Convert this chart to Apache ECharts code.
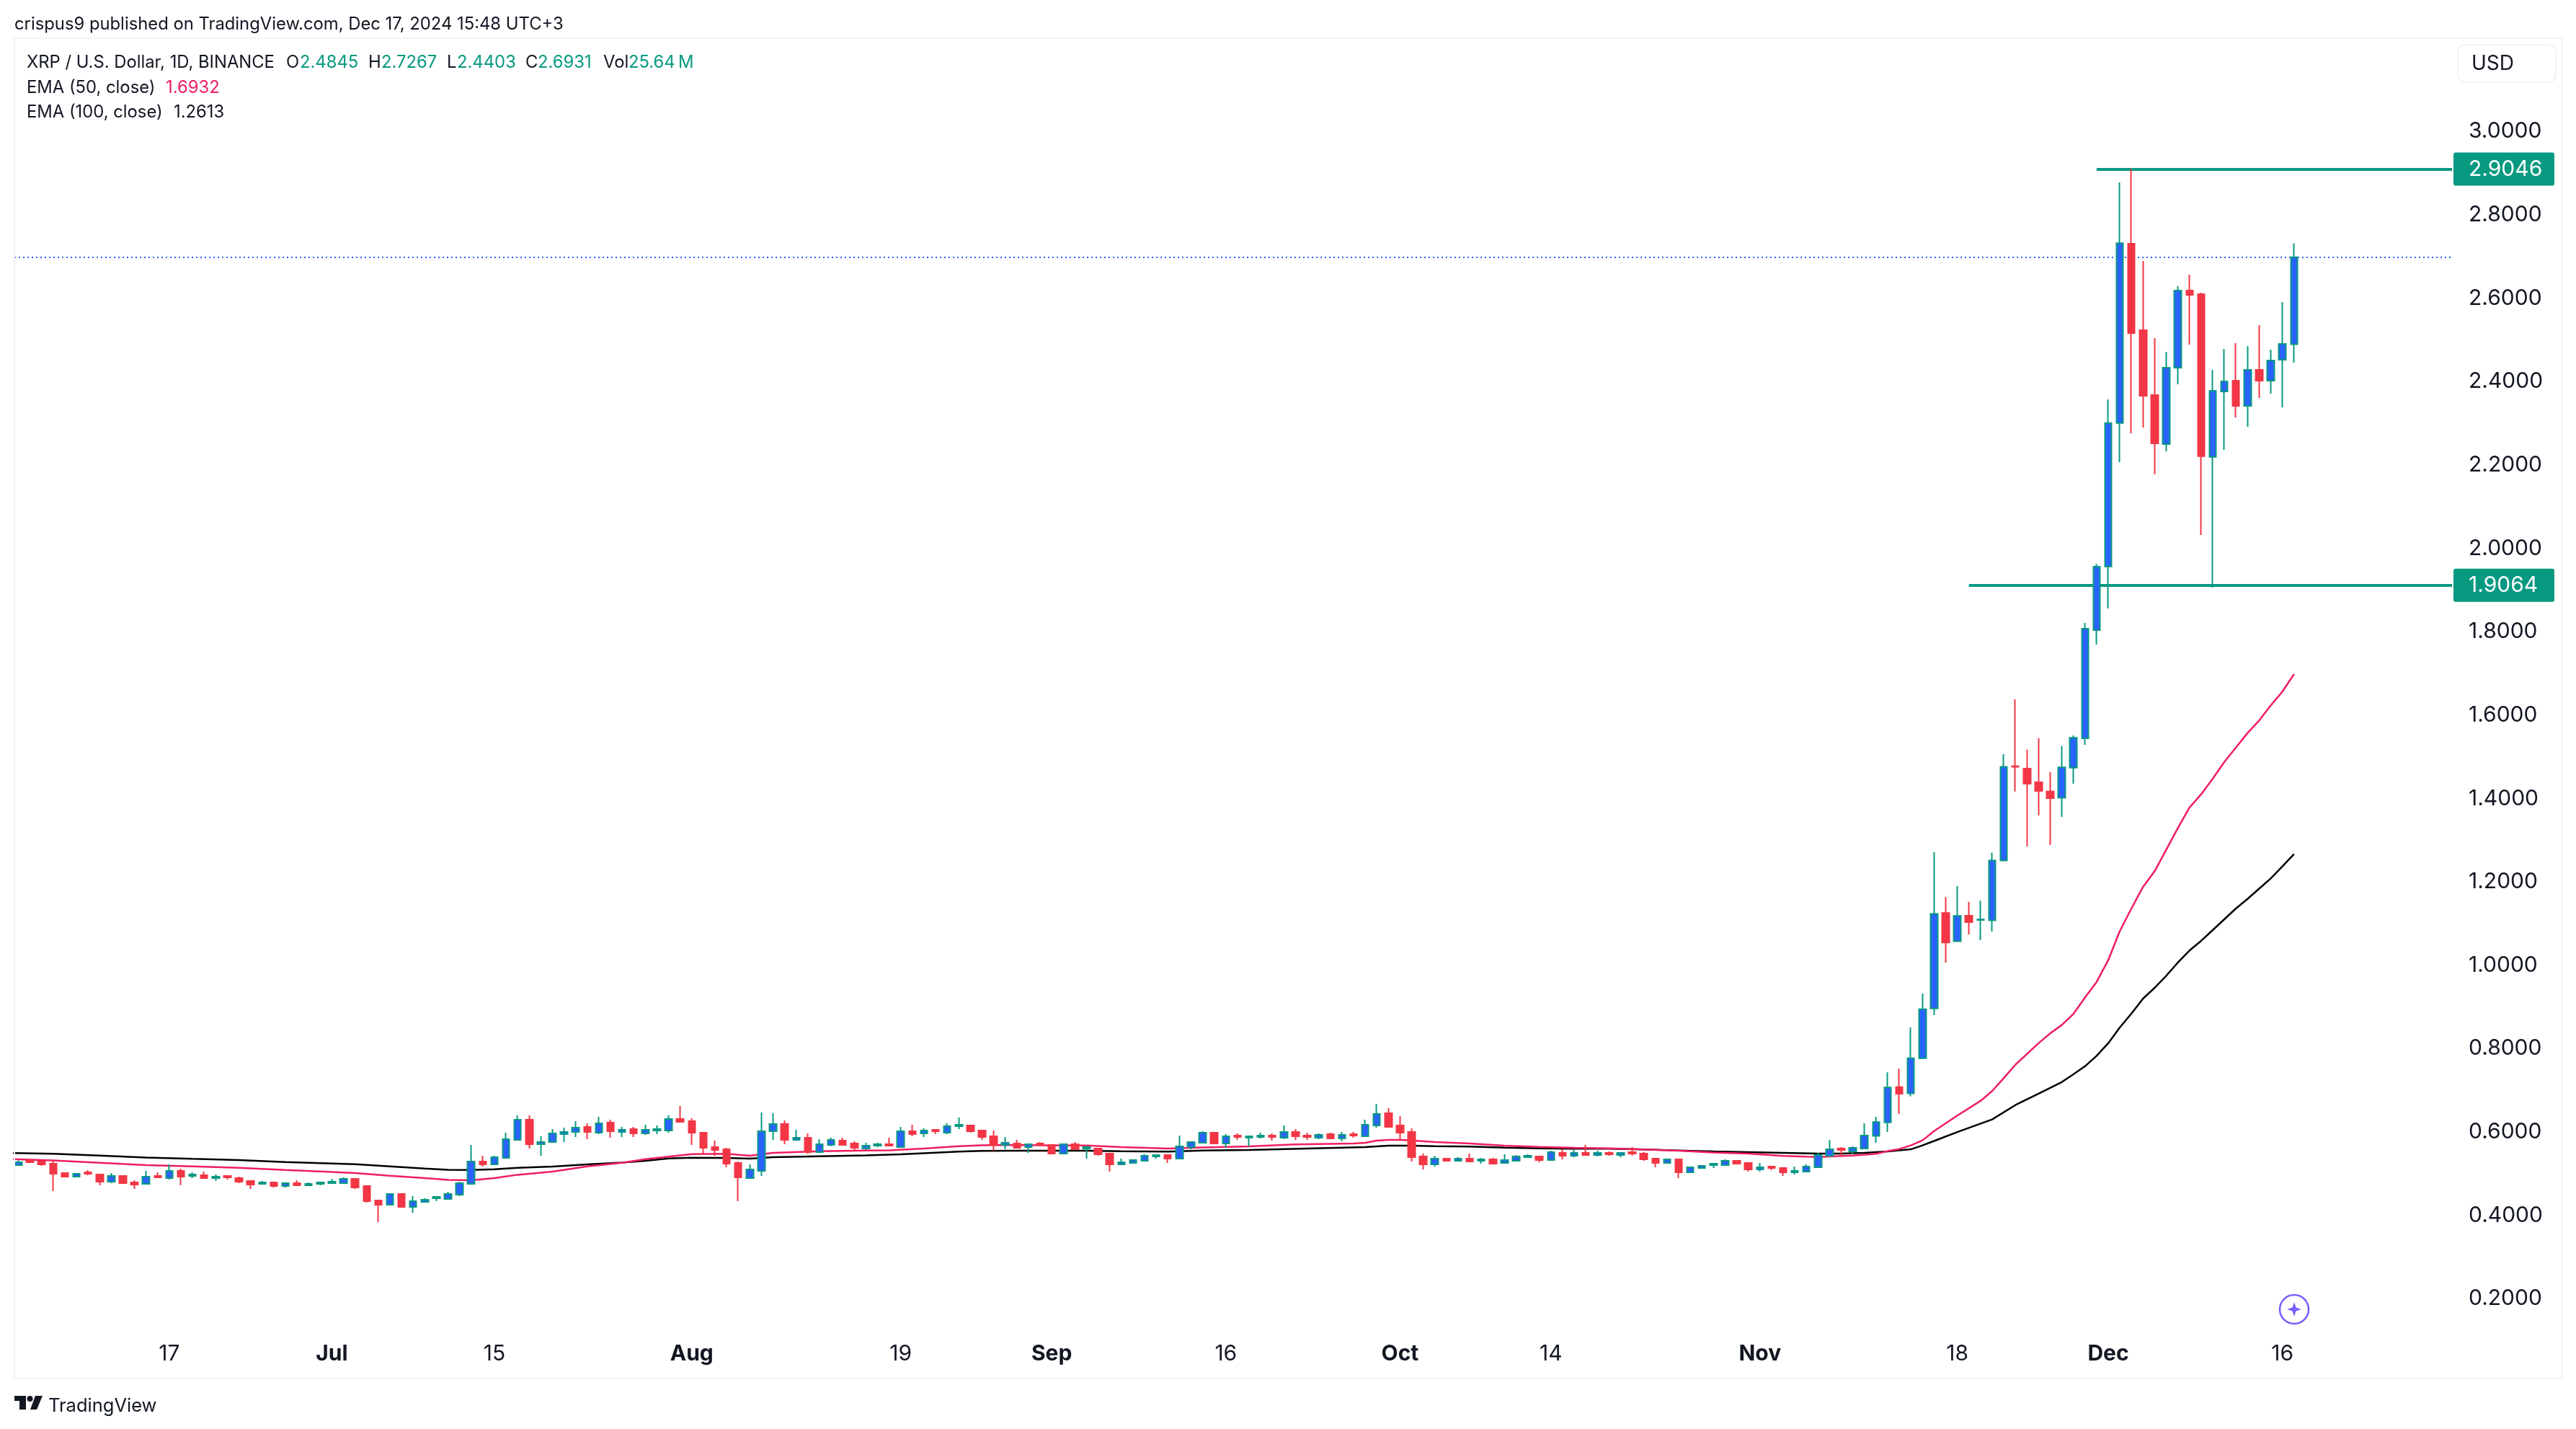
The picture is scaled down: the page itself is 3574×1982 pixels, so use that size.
<!DOCTYPE html>
<html>
<head>
<meta charset="utf-8">
<title>XRP / U.S. Dollar</title>
<script src="https://cdn.jsdelivr.net/npm/echarts@6/dist/echarts.min.js"></script>
<style>
  html, body { margin: 0; background: #fff; }
  #main { width: 3574px; height: 1982px; }
</style>
</head>
<body>
<div id="main"></div>
<script>
// daily candles from 2024-06-04 (x = day index), rows are [open, close, low, high]
const ohlc = [
  [.5153,.5222,.5153,.5268],[.5262,.5222,.5205,.5297],[.5239,.5170,.5136,.5257],[.5187,.4945,.4530,.5257],
  [.4962,.4876,.4876,.4980],[.4876,.4945,.4876,.4957],[.4980,.4945,.4911,.5032],[.4928,.4755,.4668,.4945],
  [.4755,.4893,.4720,.4962],[.4893,.4720,.4720,.4893],[.4738,.4686,.4582,.4789],[.4703,.4876,.4703,.5014],
  [.4893,.4859,.4841,.4980],[.4841,.5014,.4807,.5170],[.5014,.4876,.4668,.5066],[.4893,.4928,.4841,.4980],
  [.4911,.4841,.4841,.4997],[.4841,.4876,.4772,.4928],[.4893,.4859,.4807,.4893],[.4841,.4755,.4720,.4876],
  [.4772,.4686,.4582,.4789],[.4703,.4738,.4703,.4772],[.4738,.4651,.4617,.4755],[.4651,.4720,.4617,.4738],
  [.4720,.4668,.4668,.4789],[.4668,.4703,.4668,.4738],[.4703,.4738,.4668,.4755],[.4720,.4755,.4720,.4824],
  [.4720,.4824,.4720,.4859],[.4824,.4617,.4582,.4841],[.4651,.4288,.4253,.4668],[.4305,.4201,.3786,.4305],
  [.4201,.4461,.4201,.4478],[.4461,.4150,.4150,.4461],[.4150,.4288,.4011,.4409],[.4271,.4323,.4253,.4357],
  [.4357,.4392,.4288,.4409],[.4340,.4461,.4340,.4513],[.4444,.4720,.4409,.4755],[.4703,.5239,.4703,.5637],
  [.5239,.5170,.5118,.5378],[.5170,.5343,.5170,.5378],[.5326,.5775,.5308,.5931],[.5758,.6242,.5758,.6346],
  [.6242,.5654,.5551,.6346],[.5654,.5706,.5378,.5845],[.5706,.5914,.5689,.6018],[.5896,.5948,.5706,.6052],
  [.5948,.6052,.5827,.6208],[.6069,.5948,.5775,.6156],[.5931,.6156,.5896,.6312],[.6173,.5966,.5810,.6242],
  [.5948,.6000,.5827,.6069],[.6018,.5914,.5827,.6069],[.5914,.6000,.5879,.6121],[.5983,.6018,.5896,.6104],
  [.5983,.6260,.5931,.6346],[.6260,.6190,.6190,.6571],[.6208,.5931,.5637,.6277],[.5931,.5568,.5430,.5948],
  [.5585,.5516,.5378,.5741],[.5533,.5187,.5101,.5568],[.5205,.4859,.4288,.5239],[.4841,.5049,.4841,.5170],
  [.5014,.5966,.4893,.6415],[.5966,.6139,.5758,.6398],[.6139,.5758,.5654,.6225],[.5758,.5810,.5758,.6000],
  [.5810,.5464,.5430,.5914],[.5464,.5654,.5464,.5775],[.5637,.5758,.5602,.5810],[.5741,.5637,.5620,.5810],
  [.5672,.5568,.5499,.5724],[.5551,.5620,.5516,.5689],[.5620,.5654,.5585,.5689],[.5654,.5620,.5620,.5810],
  [.5585,.5966,.5585,.6069],[.5966,.5896,.5845,.6121],[.5914,.5983,.5827,.6035],[.6000,.5966,.5896,.6018],
  [.5931,.6087,.5896,.6156],[.6087,.6121,.6018,.6294],[.6104,.5966,.5931,.6121],[.5983,.5827,.5758,.6000],
  [.5845,.5637,.5499,.5983],[.5637,.5689,.5533,.5827],[.5672,.5568,.5551,.5758],[.5585,.5654,.5447,.5654],
  [.5672,.5637,.5602,.5706],[.5637,.5430,.5412,.5654],[.5430,.5654,.5430,.5672],[.5654,.5533,.5533,.5706],
  [.5551,.5585,.5308,.5620],[.5551,.5412,.5378,.5568],[.5430,.5170,.4997,.5447],[.5170,.5222,.5170,.5308],
  [.5205,.5274,.5187,.5291],[.5257,.5378,.5239,.5412],[.5360,.5395,.5308,.5412],[.5395,.5308,.5205,.5395],
  [.5308,.5602,.5308,.5862],[.5585,.5706,.5533,.5724],[.5689,.5931,.5672,.5966],[.5931,.5672,.5672,.5948],
  [.5672,.5845,.5568,.5896],[.5862,.5827,.5758,.5914],[.5810,.5845,.5602,.5845],[.5827,.5862,.5793,.5931],
  [.5862,.5827,.5741,.5914],[.5810,.5948,.5775,.6104],[.5948,.5845,.5758,.6018],[.5862,.5827,.5758,.5931],
  [.5810,.5879,.5775,.5914],[.5896,.5793,.5793,.5931],[.5793,.5879,.5724,.5948],[.5896,.5862,.5810,.5948],
  [.5845,.6121,.5827,.6242],[.6104,.6381,.6052,.6623],[.6398,.6069,.6069,.6519],[.6104,.5931,.5758,.6329],
  [.5948,.5343,.5239,.6035],[.5360,.5170,.5049,.5430],[.5170,.5308,.5118,.5378],[.5308,.5257,.5239,.5326],
  [.5257,.5308,.5257,.5343],[.5308,.5239,.5239,.5430],[.5257,.5291,.5187,.5326],[.5291,.5187,.5187,.5326],
  [.5205,.5274,.5205,.5412],[.5257,.5360,.5257,.5395],[.5343,.5378,.5326,.5412],[.5360,.5274,.5222,.5378],
  [.5274,.5464,.5257,.5499],[.5447,.5378,.5291,.5533],[.5378,.5447,.5343,.5516],[.5447,.5395,.5395,.5637],
  [.5395,.5447,.5360,.5499],[.5447,.5412,.5378,.5481],[.5395,.5447,.5343,.5464],[.5464,.5430,.5378,.5585],
  [.5430,.5291,.5257,.5464],[.5308,.5205,.5101,.5308],[.5205,.5291,.5205,.5308],[.5291,.4980,.4841,.5291],
  [.4980,.5101,.4962,.5118],[.5084,.5136,.5066,.5153],[.5153,.5187,.5084,.5187],[.5153,.5257,.5153,.5291],
  [.5257,.5187,.5170,.5257],[.5205,.5049,.4997,.5222],[.5049,.5101,.4997,.5205],[.5118,.5084,.5032,.5136],
  [.5084,.4980,.4893,.5084],[.4980,.5014,.4928,.5118],[.4997,.5118,.4980,.5170],[.5101,.5395,.5101,.5447],
  [.5378,.5533,.5343,.5758],[.5551,.5516,.5395,.5585],[.5481,.5568,.5412,.5602],[.5551,.5862,.5533,.6156],
  [.5855,.6185,.5690,.6314],[.6178,.7017,.5948,.7382],[.7024,.6866,.6378,.7468],[.6873,.7719,.6801,.8458],
  [.7719,.8895,.7698,.9268],[.8910,1.1182,.8752,1.2659],[1.1204,1.0494,1.0014,1.1584],[1.0523,1.1132,1.0523,1.1849],
  [1.1139,1.0982,1.0688,1.1469],[1.1032,1.1046,1.0551,1.1498],[1.1025,1.2459,1.0759,1.2645],[1.2459,1.4710,1.2459,1.5011],
  [1.4724,1.4710,1.4115,1.6326],[1.4667,1.4301,1.2796,1.5119],[1.4337,1.4129,1.3541,1.5391],[1.4115,1.3957,1.2831,1.4581],
  [1.3964,1.4696,1.3505,1.5205],[1.4689,1.5405,1.4301,1.5463],[1.5392,1.8021,1.5236,1.8159],[1.7986,1.9508,1.7640,1.9577],
  [1.9514,2.2956,1.8505,2.3520],[2.2956,2.7268,2.2016,2.8726],[2.7256,2.5112,2.2708,2.9046],[2.5180,2.3607,2.2846,2.6841],
  [2.3624,2.2466,2.1728,2.4990],[2.2448,2.4282,2.2275,2.4662],[2.4282,2.6132,2.3884,2.6236],[2.6132,2.6028,2.4835,2.6513],
  [2.6046,2.2160,2.0269,2.6080],[2.2143,2.3728,1.9007,2.4230],[2.3710,2.3953,2.2310,2.4731],[2.3970,2.3365,2.3088,2.4869],
  [2.3365,2.4230,2.2863,2.4800],[2.4230,2.3970,2.3555,2.5302],[2.3970,2.4454,2.3659,2.4714],[2.4472,2.4852,2.3330,2.5855],
  [2.4845,2.6931,2.4403,2.7267]
];

// EMA lines, [day index, value] read at the visible turns of each line
const ema50 = [
  [-1,.5300],[3,.5268],[7,.5210],[11,.5153],[15,.5124],[19,.5089],[23,.5037],[27,.4991],[29,.4962],[32,.4899],[35,.4841],
  [37,.4801],[39,.4789],[41,.4841],[43,.4922],[46,.4997],[49,.5124],[52,.5210],[54,.5297],[56,.5355],[58,.5418],[61,.5424],
  [63,.5378],[65,.5447],[69,.5487],[73,.5504],[75,.5510],[78,.5551],[81,.5608],[83,.5631],[86,.5637],[89,.5625],[92,.5625],
  [95,.5585],[99,.5551],[102,.5579],[106,.5602],[110,.5649],[115,.5672],[116,.5689],[117,.5741],[118,.5758],[119,.5758],
  [120,.5747],[122,.5706],[125,.5672],[128,.5620],[131,.5591],[134,.5568],[137,.5556],[140,.5528],[143,.5499],[146,.5458],
  [149,.5430],[152,.5372],[154,.5355],[155,.5349],[156,.5361],[158,.5382],[160,.5425],[161,.5489],[162,.5540],[163,.5626],
  [164,.5748],[165,.5970],[167,.6343],[169,.6694],[170,.6931],[171,.7239],[172,.7562],[174,.8078],[175,.8314],[176,.8515],
  [177,.8780],[178,.9175],[179,.9548],[180,1.0071],[181,1.0770],[182,1.1311],[183,1.1830],[184,1.2204],[185,1.2723],
  [186,1.3242],[187,1.3732],[188,1.4049],[189,1.4424],[190,1.4827],[191,1.5173],[192,1.5519],[193,1.5819],[194,1.6182],
  [195,1.6511],[196,1.6932]
];
const ema100 = [
  [-1,.5447],[3,.5424],[7,.5383],[11,.5337],[15,.5303],[19,.5274],[23,.5228],[27,.5193],[29,.5176],[32,.5124],[35,.5072],
  [37,.5043],[39,.5037],[41,.5055],[43,.5089],[46,.5118],[49,.5170],[52,.5216],[54,.5257],[56,.5314],[58,.5331],[61,.5326],
  [63,.5308],[65,.5343],[69,.5366],[73,.5389],[76,.5412],[81,.5476],[83,.5493],[86,.5499],[89,.5499],[92,.5499],[95,.5487],
  [99,.5476],[102,.5504],[106,.5516],[111,.5551],[116,.5585],[117,.5602],[118,.5620],[120,.5620],[122,.5608],[125,.5597],
  [128,.5574],[131,.5556],[134,.5545],[137,.5545],[140,.5528],[143,.5504],[146,.5481],[149,.5464],[152,.5447],[155,.5430],
  [157,.5432],[159,.5446],[161,.5482],[163,.5532],[164,.5626],[165,.5733],[167,.5948],[170,.6249],[172,.6594],[174,.6866],
  [176,.7146],[177,.7332],[178,.7526],[179,.7777],[180,.8078],[181,.8458],[182,.8790],[183,.9149],[184,.9408],[185,.9697],
  [186,1.0014],[187,1.0302],[188,1.0533],[189,1.0792],[190,1.1051],[191,1.1311],[192,1.1540],[193,1.1785],[194,1.2031],
  [195,1.2320],[196,1.2613]
];

const lastClose = 2.6931;
const highLevel = 2.9046;
const lowLevel = 1.9064;
const highLevelStart = 179;
const lowLevelStart = 168;

const yTicks = [3.0, 2.8, 2.6, 2.4, 2.2, 2.0, 1.8, 1.6, 1.4, 1.2, 1.0, 0.8, 0.6, 0.4, 0.2];
const xTickDays = [13, 27, 41, 58, 76, 89, 104, 119, 132, 150, 167, 180, 195];
const xTickLabels = ['17', 'Jul', '15', 'Aug', '19', 'Sep', '16', 'Oct', '14', 'Nov', '18', 'Dec', '16'];

const legendRow1 = [
  { x: 37, text: 'XRP / U.S. Dollar, 1D, BINANCE', fill: '#131722' },
  { x: 397, text: 'O', fill: '#131722' }, { x: 416, text: '2.4845', fill: '#089981' },
  { x: 511, text: 'H', fill: '#131722' }, { x: 529, text: '2.7267', fill: '#089981' },
  { x: 620, text: 'L', fill: '#131722' }, { x: 634, text: '2.4403', fill: '#089981' },
  { x: 729, text: 'C', fill: '#131722' }, { x: 746, text: '2.6931', fill: '#089981' },
  { x: 837, text: 'Vol', fill: '#131722' }, { x: 872, text: '25.64\u2009M', fill: '#089981' }
];

const FONT = 'Inter, "Noto Sans", sans-serif';
const INK = '#131722';
const GREEN = '#089981';
const BLUE = '#2962FF';
const RED = '#F23645';
const PINK = '#F01E5F';

function txt (x, y, text, fill, size) {
  return {
    type: 'text', x, y: y + 2, silent: true, z: 20,
    style: { text, fill: fill || INK, font: (size || 23.8) + 'px ' + FONT, textVerticalAlign: 'middle' }
  };
}

// four pointed star for the little purple badge
function star (cx, cy, r, q) {
  return [[cx, cy - r], [cx + q, cy - q], [cx + r, cy], [cx + q, cy + q], [cx, cy + r], [cx - q, cy + q], [cx - r, cy], [cx - q, cy - q]];
}

const levelLabel = {
  show: true, position: 'end', distance: 2, color: '#fff', fontFamily: FONT, fontSize: 30,
  backgroundColor: GREEN, borderRadius: 3, width: 103, align: 'left', padding: [11, 16, 5, 21]
};

const option = {
  animation: false,
  backgroundColor: '#fff',
  textStyle: { fontFamily: FONT },
  grid: { left: 20, top: 54, width: 3382, height: 1791 },
  xAxis: {
    type: 'value',
    min: -0.3414,
    max: 209.61,
    splitLine: { show: false },
    axisLine: { show: false },
    axisTick: { show: false },
    axisLabel: {
      margin: 18,
      customValues: xTickDays,
      color: INK,
      fontSize: 30,
      formatter: v => {
        const s = xTickLabels[xTickDays.indexOf(v)];
        return /^\d/.test(s) ? s : '{m|' + s + '}';
      },
      rich: { m: { fontSize: 30, fontWeight: 700, color: INK, fontFamily: FONT } }
    }
  },
  yAxis: {
    type: 'value',
    position: 'right',
    min: 0.1193,
    max: 3.2168,
    splitLine: { show: false },
    axisLine: { show: false },
    axisTick: { show: false },
    axisLabel: {
      margin: 23,
      customValues: yTicks,
      color: INK,
      fontSize: 30,
      formatter: v => '{p|' + v.toFixed(4) + '}',
      rich: { p: { fontSize: 30, color: INK, fontFamily: FONT, padding: [6, 0, 0, 0] } }
    }
  },
  series: [
    {
      name: 'EMA 100',
      type: 'line',
      z: 2,
      data: ema100,
      symbol: 'none',
      lineStyle: { color: '#000', width: 2.5 },
      markLine: {
        silent: true,
        symbol: 'none',
        z: 1,
        animation: false,
        data: [
          [
            { coord: [-0.3414, lastClose], lineStyle: { color: BLUE, width: 2, type: [2, 4] }, label: { show: false } },
            { coord: [209.61, lastClose] }
          ],
          [
            { coord: [highLevelStart, highLevel], lineStyle: { color: GREEN, width: 4, type: 'solid' }, label: Object.assign({ formatter: highLevel.toFixed(4) }, levelLabel) },
            { coord: [209.61, highLevel] }
          ],
          [
            { coord: [lowLevelStart, lowLevel], lineStyle: { color: GREEN, width: 4, type: 'solid' }, label: Object.assign({ formatter: lowLevel.toFixed(4) }, levelLabel) },
            { coord: [209.61, lowLevel] }
          ]
        ]
      }
    },
    {
      name: 'EMA 50',
      type: 'line',
      z: 2,
      data: ema50,
      symbol: 'none',
      lineStyle: { color: PINK, width: 2.5 }
    },
    {
      name: 'XRP',
      type: 'candlestick',
      z: 3,
      barWidth: 10,
      encode: { x: 0, y: [1, 2, 3, 4] },
      data: ohlc.map((d, i) => [i].concat(d)),
      itemStyle: {
        color: BLUE,
        color0: RED,
        borderColor: GREEN,
        borderColor0: RED,
        borderColorDoji: GREEN,
        borderWidth: 2
      }
    }
  ],
  graphic: [
    { type: 'rect', silent: true, z: 10, shape: { x: 20, y: 53, width: 3534.5, height: 1859 }, style: { fill: 'none', stroke: '#F0F3FA', lineWidth: 2 } },
    txt(20, 32, 'crispus9 published on TradingView.com, Dec 17, 2024 15:48 UTC+3'),
    ...legendRow1.map(d => txt(d.x, 85, d.text, d.fill)),
    txt(37, 120, 'EMA (50, close)'),
    txt(230, 120, '1.6932', PINK),
    txt(37, 154, 'EMA (100, close)'),
    txt(241, 154, '1.2613', INK),
    { type: 'rect', silent: true, z: 20, shape: { x: 3410, y: 62, width: 136, height: 52, r: 10 }, style: { fill: '#fff', stroke: '#F0F3FA', lineWidth: 2 } },
    txt(3429, 87, 'USD', INK, 28),
    // purple star badge
    { type: 'circle', silent: true, z: 20, shape: { cx: 3183, cy: 1816, r: 20 }, style: { fill: '#fff', stroke: '#7B5CFF', lineWidth: 2.5 } },
    { type: 'polygon', silent: true, z: 21, shape: { points: star(3183, 1816, 10, 2.5) }, style: { fill: '#7B5CFF' } },
    // TradingView logo
    { type: 'polygon', silent: true, z: 20, shape: { points: [[20, 1936], [36, 1936], [36, 1955], [27, 1955], [27, 1943], [20, 1943]] }, style: { fill: INK } },
    { type: 'circle', silent: true, z: 20, shape: { cx: 41.5, cy: 1940, r: 4 }, style: { fill: INK } },
    { type: 'polygon', silent: true, z: 20, shape: { points: [[49, 1936], [59, 1936], [51, 1955], [42, 1955]] }, style: { fill: INK } },
    txt(67, 1948, 'TradingView', INK, 25.5)
  ]
};

const chart = echarts.init(document.getElementById('main'), null, { renderer: 'canvas' });
chart.setOption(option);
</script>
</body>
</html>
